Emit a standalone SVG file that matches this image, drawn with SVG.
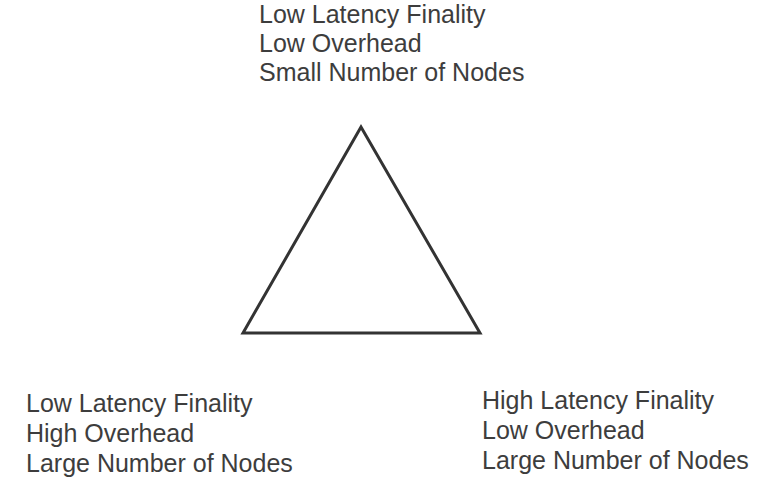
<svg xmlns="http://www.w3.org/2000/svg" width="758" height="483" viewBox="0 0 758 483">
<style>
.t{font-family:"Liberation Sans",Arial,sans-serif;font-size:25px;fill:#3d3d3d}
.tri{fill:#fff;stroke:#333;stroke-width:3;stroke-linejoin:miter}
</style>
<rect width="758" height="483" fill="#fff"/>
<g id="triangle">
<polygon class="tri" points="361,127 243,333 480,333"/>
</g>
<g id="top-label">
<text class="t" x="259" y="23">Low Latency Finality</text>
<text class="t" x="259" y="52">Low Overhead</text>
<text class="t" x="259" y="81">Small Number of Nodes</text>
</g>
<g id="left-label">
<text class="t" x="26" y="412">Low Latency Finality</text>
<text class="t" x="26" y="442">High Overhead</text>
<text class="t" x="26" y="472">Large Number of Nodes</text>
</g>
<g id="right-label">
<text class="t" x="482" y="409">High Latency Finality</text>
<text class="t" x="482" y="439">Low Overhead</text>
<text class="t" x="482" y="469">Large Number of Nodes</text>
</g>
<g id="connectors"/>
</svg>
